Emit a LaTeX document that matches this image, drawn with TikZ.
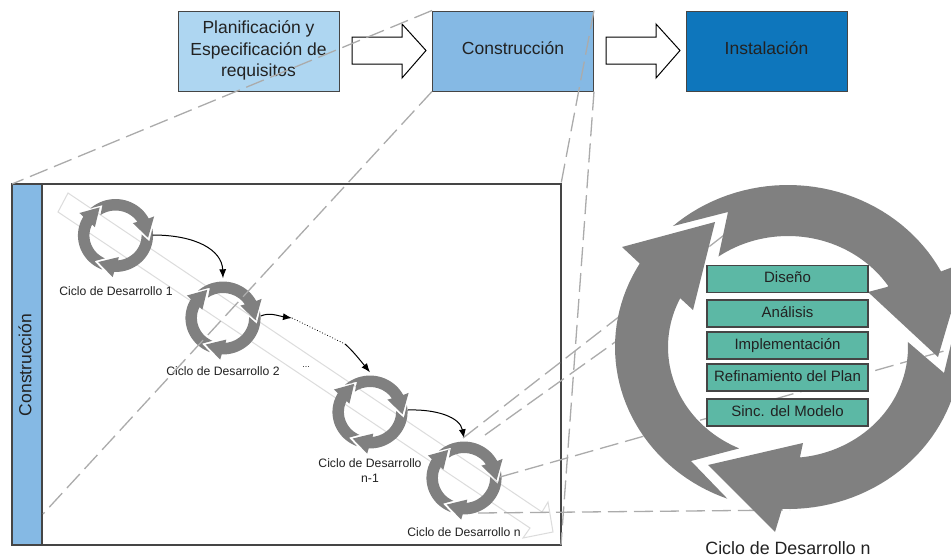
\documentclass[tikz,border=0pt]{standalone}
\usepackage{fontspec}
\setmainfont{Liberation Sans}
\usetikzlibrary{arrows.meta}
\definecolor{boxa}{HTML}{AED6F1}
\definecolor{boxb}{HTML}{85B9E4}
\definecolor{boxc}{HTML}{0E76BC}
\definecolor{ringc}{HTML}{808080}
\definecolor{dashc}{HTML}{ABABAB}
\definecolor{bandc}{HTML}{DCDCDC}
\definecolor{greenc}{HTML}{5CB8A5}
\definecolor{edgec}{HTML}{454545}
\definecolor{textc}{HTML}{222222}
\newcommand{\ringarcs}{%
  \fill[ringc] plot[domain=228.3:332.2,samples=40] ({173*cos(\x)},{162*sin(\x)})
     -- (178,-85) -- (150,10) -- (80,-55) -- (99,-60)
     -- plot[domain=326.8:234.6,samples=40] ({120*cos(\x)},{111*sin(\x)})
     -- (-60,-135) -- cycle;
  \fill[ringc] plot[domain=-11:92,samples=40] ({173*cos(\x)},{162*sin(\x)})
     -- (-13,185) -- (-80,118) -- (15,96) -- (12,110)
     -- plot[domain=84:-2.6,samples=40] ({120*cos(\x)},{111*sin(\x)})
     -- (156,26) -- cycle;
  \fill[ringc] plot[domain=110.5:211,samples=40] ({173*cos(\x)},{162*sin(\x)})
     -- (-166,-100) -- (-73,-125) -- (-95,-37) -- (-108,-49)
     -- plot[domain=206:114,samples=40] ({120*cos(\x)},{111*sin(\x)})
     -- (-97,114) -- cycle;
}
\tikzset{
  phase/.style={draw=edgec,line width=1pt,minimum width=161pt,minimum height=80pt,inner sep=0pt,
    align=center,text=textc,font=\fontsize{17.5}{21.5}\selectfont},
  oneline/.style={text height=13pt,text depth=6pt},
  blockarrow/.style={draw=black,fill=white,line width=1pt,line join=miter},
  zoomline/.style={draw=dashc,line width=1.3pt,dash pattern=on 19pt off 7pt},
  flow/.style={draw=black,line width=1pt,-{Latex[length=9pt,width=7pt]}},
  activity/.style={draw=edgec,fill=greenc,line width=1.1pt,minimum width=161pt,minimum height=27pt,inner sep=0pt,
    text=textc,text height=11pt,text depth=4pt,font=\fontsize{15}{18}\selectfont},
  ciclo/.style={text=textc,font=\fontsize{12.2}{15}\selectfont,align=center,inner sep=0pt},
  anchorring/.style={circle,minimum size=75pt,inner sep=0pt},
  smallring/.style={xscale=.217,yscale=.225},
}
\begin{document}
\begin{tikzpicture}[x=1pt,y=-1pt]
\clip (0,0) rectangle (951,557);
% top row
\node[phase,fill=boxa] (plan) at (258.5,51) {Planificación y\\Especificación de\\requisitos\rule[-4.5pt]{0pt}{4.5pt}};
\node[phase,oneline,fill=boxb] (cons) at (513,51) {Construcción};
\node[phase,oneline,fill=boxc] (inst) at (766.5,51) {Instalación};
\draw[blockarrow] (352,37) -- (402,37) -- (402,24) -- (426,50.5) -- (402,78) -- (402,64) -- (352,64) -- cycle;
\draw[blockarrow] (606,37) -- (656,37) -- (656,24) -- (680,50.5) -- (656,78) -- (656,64) -- (606,64) -- cycle;
% panel
\node[draw=edgec,line width=1.2pt,fill=white,minimum width=549pt,minimum height=361pt,inner sep=0pt] (panel) at (286.5,364.5) {};
\node[draw=edgec,line width=1.2pt,fill=boxb,minimum width=30pt,minimum height=361pt,inner sep=0pt] (band) at (27,364.5) {};
\node[rotate=90,text=textc,font=\fontsize{17.5}{21}\selectfont] (bandt) at (25,365) {Construcción};
% direction arrow
\draw[bandc,line width=1pt,line join=miter] (68,193) -- (542,512) -- (548,502) -- (553,532) -- (523,538) -- (530,528) -- (58,212) -- cycle;
% small cycles
\begin{scope}[shift={(115.5,235.5)},smallring]\ringarcs\end{scope}
\begin{scope}[shift={(223,318)},smallring]\ringarcs\end{scope}
\begin{scope}[shift={(370,412)},smallring]\ringarcs\end{scope}
\begin{scope}[shift={(464,478)},smallring]\ringarcs\end{scope}
\node[anchorring] (r1) at (115,235) {};
\node[anchorring] (r2) at (223,316) {};
\node[anchorring] (r3) at (370,410) {};
\node[anchorring] (r4) at (464,476) {};
\node[ciclo] (l1) at (116,291) {Ciclo de Desarrollo 1};
\node[ciclo] (l2) at (223,371) {Ciclo de Desarrollo 2};
\node[ciclo] (l3) at (370,471) {Ciclo de Desarrollo\\n-1};
\node[ciclo] (l4) at (464,532) {Ciclo de Desarrollo n};
\node[text=textc,font=\fontsize{9}{10}\selectfont,inner sep=0pt] (dots) at (306,367) {...};
\coordinate (d1) at (292,318);
\coordinate (d2) at (345,344);
\draw[flow] (r1.east) .. controls (196,235) and (222,250) .. (r2.north);
\draw[flow] (r2.east) .. controls (270,312) and (278,316) .. (d1);
\draw[black,line width=.8pt,dotted] (d1) -- (d2);
\draw[flow] (d2) .. controls (352,350) and (360,360) .. (r3.north);
\draw[flow] (r3.east) .. controls (436,409) and (460,417) .. (r4.north);
% zoom lines
\coordinate (pnw) at (12,184);
\coordinate (psw) at (43,514);
\coordinate (pne) at (561,184);
\coordinate (pse) at (561,545);
\coordinate (a1) at (463,438);
\coordinate (a2) at (728,232);
\coordinate (b1) at (485,435);
\coordinate (b2) at (632,330);
\coordinate (c1) at (500,477);
\coordinate (c2) at (951,349);
\coordinate (e1) at (478,513);
\coordinate (e2) at (790,510);
\draw[zoomline] (cons.north west) -- (pnw);
\draw[zoomline] (cons.south west) -- (psw);
\draw[zoomline] (cons.north east) -- (pne);
\draw[zoomline] (cons.south east) -- (pse);
\draw[zoomline] (a1) -- (a2);
\draw[zoomline] (b1) -- (b2);
\draw[zoomline] (c1) -- (c2);
\draw[zoomline] (e1) -- (e2);
% big cycle
\begin{scope}[shift={(788,347)}]\ringarcs\end{scope}
\node[activity] (g1) at (787.5,279) {Diseño};
\node[activity] (g2) at (787.5,313.5) {Análisis};
\node[activity] (g3) at (787.5,345.5) {Implementación};
\node[activity] (g4) at (787.5,377.5) {Refinamiento del Plan};
\node[activity] (g5) at (787.5,412.5) {Sinc. del Modelo};
\node[text=textc,font=\fontsize{17.8}{22}\selectfont,inner sep=0pt] (big) at (788,548) {Ciclo de Desarrollo n};
\end{tikzpicture}
\end{document}
